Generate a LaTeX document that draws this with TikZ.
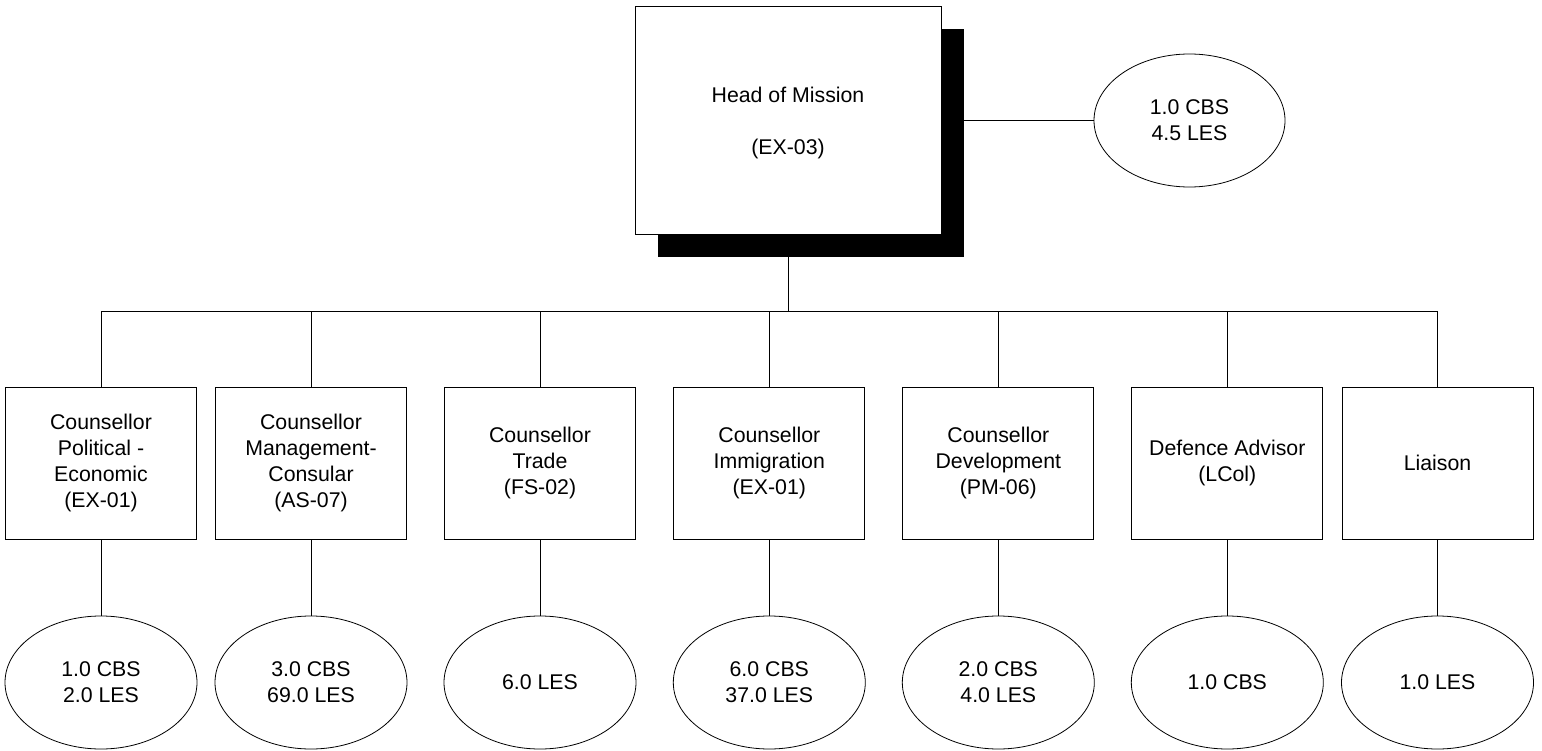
\documentclass[tikz,border=0pt]{standalone}
\usepackage{fontspec}
\setmainfont{Liberation Sans}
\usetikzlibrary{shapes.geometric,shadows}
\begin{document}
\begin{tikzpicture}[x=1pt,y=-1pt,
  txt/.style={font=\fontsize{21.3}{26.3}\selectfont, align=center, text=black},
  unitbox/.style={txt, draw=black, line width=0.9pt, fill=white, rectangle, minimum width=191pt, minimum height=152pt, inner sep=0pt},
  headbox/.style={txt, draw=black, line width=0.9pt, fill=white, rectangle, minimum width=306pt, minimum height=228pt, inner sep=0pt,
     general shadow={fill=black, shadow xshift=23pt, shadow yshift=-23pt}},
  staff/.style={txt, draw=black, line width=0.8pt, fill=white, ellipse, minimum width=192pt, minimum height=133pt, inner sep=0pt},
  conn/.style={draw=black, line width=0.9pt}]
\useasboundingbox (0,0) rectangle (1542,751);

\node[headbox] (head) at (788,120) {\rule{0pt}{21.5pt}Head of Mission\\[26.3pt](EX-03)};
\node[staff, minimum width=191pt] (hstaff) at (1189.5,120.5) {1.0 CBS\\4.5 LES};
\draw[conn] (head.east |- hstaff.west) -- (hstaff.west);

\coordinate (bus) at (788,311);
\draw[conn] (head.south) -- (bus);

\node[unitbox] (b1) at (101,463) {Counsellor\\Political -\\Economic\\(EX-01)};
\node[unitbox] (b2) at (311,463) {Counsellor\\Management-\\Consular\\(AS-07)};
\node[unitbox] (b3) at (540,463) {Counsellor\\Trade\\(FS-02)};
\node[unitbox] (b4) at (769.3,463) {Counsellor\\Immigration\\(EX-01)};
\node[unitbox] (b5) at (998.3,463) {Counsellor\\Development\\(PM-06)};
\node[unitbox] (b6) at (1227.3,463) {Defence Advisor\\(LCol)};
\node[unitbox] (b7) at (1437.5,463) {Liaison};

\node[staff] (e1) at (101,682.5) {1.0 CBS\\2.0 LES};
\node[staff] (e2) at (311,682.5) {3.0 CBS\\69.0 LES};
\node[staff] (e3) at (540,682.5) {6.0 LES};
\node[staff] (e4) at (769.3,682.5) {6.0 CBS\\37.0 LES};
\node[staff] (e5) at (998.3,682.5) {2.0 CBS\\4.0 LES};
\node[staff] (e6) at (1227.3,682.5) {1.0 CBS};
\node[staff] (e7) at (1437.5,682.5) {1.0 LES};

\foreach \i in {1,...,7} {
  \draw[conn] (bus) -| (b\i.north);
  \draw[conn] (b\i.south) -- (e\i.north);
}
\end{tikzpicture}
\end{document}
